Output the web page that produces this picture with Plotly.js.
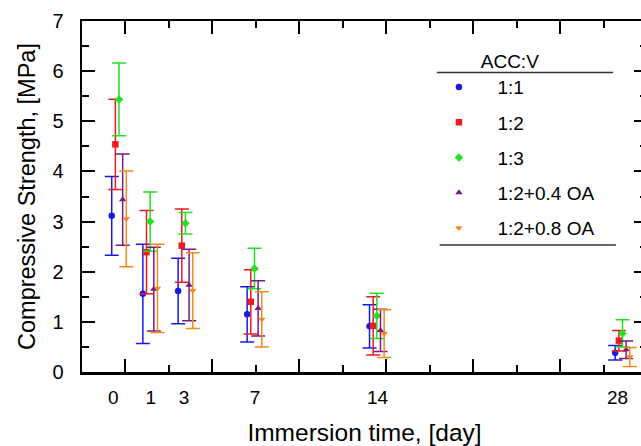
<!DOCTYPE html>
<html>
<head>
<meta charset="utf-8">
<script src="https://cdn.plot.ly/plotly-3.0.1.min.js"></script>
<style>
html,body{margin:0;padding:0;overflow:hidden;background:#fff;}
#chart{width:660px;height:446px;}
</style>
</head>
<body>
<div id="chart"></div>
<script>
// Categories (immersion days)
const days = ['0', '1', '3', '7', '14', '28'];
const seriesNames = ['1:1', '1:2', '1:3', '1:2+0.4 OA', '1:2+0.8 OA'];

// Mean compressive strength [MPa]
const s11   = [3.115, 1.56, 1.615, 1.15, 0.91, 0.385];
const s12   = [4.54, 2.39, 2.52, 1.40, 0.92, 0.625];
const s13   = [5.435, 3.00, 2.965, 2.065, 1.12, 0.77];
const s12o4 = [3.44, 1.655, 1.735, 1.27, 0.83, 0.445];
const s12o8 = [3.055, 1.67, 1.625, 1.05, 0.765, 0.30];

// Standard deviations [MPa]
const e11   = [0.785, 0.99, 0.655, 0.55, 0.43, 0.145];
const e12   = [0.90, 0.83, 0.73, 0.64, 0.58, 0.205];
const e13   = [0.725, 0.59, 0.215, 0.405, 0.45, 0.27];
const e12o4 = [0.91, 0.835, 0.715, 0.55, 0.42, 0.175];
const e12o8 = [0.955, 0.88, 0.755, 0.55, 0.475, 0.19];

// Layout: where each day group sits on the drawing axis, and per-series shift
const dayPos   = [-0.37, 1.42, 3.45, 7.42, 14.46, 28.59];
const labelPos = [-0.7, 1.46, 3.37, 7.46, 14.5, 28.3];
const shift    = [-0.42, -0.21, 0, 0.21, 0.42];

const means = [s11, s12, s13, s12o4, s12o8];
const errs  = [e11, e12, e13, e12o4, e12o8];
const colors = ['#1a1ae6', '#ee1c1c', '#22e022', '#7a1a86', '#f28a1e'];
const symbols = ['circle', 'square', 'diamond', 'triangle-up', 'triangle-down'];
// two overlaid x axes share one range: one carries tick marks, the other the day labels
const xAxisOf = ['x', 'x', 'x', 'x2', 'x2'];

const FONT = 'Liberation Sans, Arial, sans-serif';
const XR = [-2.5, 30];

const traces = means.map((m, s) => ({
  type: 'scatter',
  mode: 'markers',
  name: seriesNames[s],
  legendgroup: 'g' + s,
  x: dayPos.map(p => p + shift[s]),
  y: m,
  marker: {color: colors[s], symbol: symbols[s], size: 6.5},
  error_y: {type: 'data', array: errs[s], visible: true, color: colors[s], thickness: 1.5, width: 7},
  xaxis: xAxisOf[s],
  yaxis: 'y'
}));

const layout = {
  width: 660,
  height: 446,
  margin: {l: 82, r: 13, t: 21, b: 74},
  paper_bgcolor: '#fff',
  plot_bgcolor: '#fff',
  font: {family: FONT, color: '#000', size: 19},
  showlegend: true,
  legend: {
    x: 0.599, y: 0.936, xanchor: 'left', yanchor: 'top',
    bgcolor: 'rgba(0,0,0,0)',
    tracegroupgap: 7.5,
    font: {family: FONT, size: 19, color: '#000'},
    title: {text: 'ACC:V', side: 'top center', font: {family: FONT, size: 19}},
    itemwidth: 67
  },
  xaxis: {
    range: XR, fixedrange: true,
    tickmode: 'linear', tick0: 0, dtick: 5,
    ticks: 'inside', ticklen: 13, tickwidth: 2, tickcolor: '#000',
    minor: {dtick: 2.5, tick0: 0, ticks: 'inside', ticklen: 7, tickwidth: 2, tickcolor: '#000'},
    showticklabels: false,
    showline: true, linewidth: 2.5, linecolor: '#000', mirror: 'ticks',
    showgrid: false, zeroline: false
  },
  xaxis2: {
    overlaying: 'x', anchor: 'y', side: 'bottom',
    range: XR, fixedrange: true,
    tickmode: 'array', tickvals: labelPos, ticktext: days,
    ticks: '', ticklabelstandoff: 12,
    tickfont: {family: FONT, size: 19},
    showline: false, showgrid: false, zeroline: false,
    title: {text: 'Immersion time, [day]', font: {family: FONT, size: 24.5}, standoff: 18}
  },
  yaxis: {
    range: [0, 7],
    tickmode: 'linear', tick0: 0, dtick: 1,
    ticks: 'inside', ticklen: 13, tickwidth: 2, tickcolor: '#000',
    minor: {dtick: 0.5, ticks: 'inside', ticklen: 7, tickwidth: 2, tickcolor: '#000'},
    ticklabelstandoff: 12,
    tickfont: {family: FONT, size: 20},
    showline: true, linewidth: 2.5, linecolor: '#000', mirror: 'ticks',
    showgrid: false, zeroline: false,
    title: {text: 'Compressive Strength, [MPa]', font: {family: FONT, size: 23.5}, standoff: 10}
  },
  shapes: [
    {type: 'line', xref: 'paper', yref: 'paper', x0: 0.628, x1: 0.940, y0: 0.853, y1: 0.853, line: {color: '#333', width: 1.5}},
    {type: 'line', xref: 'paper', yref: 'paper', x0: 0.633, x1: 0.945, y0: 0.362, y1: 0.362, line: {color: '#333', width: 1.5}}
  ]
};

Plotly.newPlot('chart', traces, layout, {staticPlot: true, displayModeBar: false});
</script>
</body>
</html>
